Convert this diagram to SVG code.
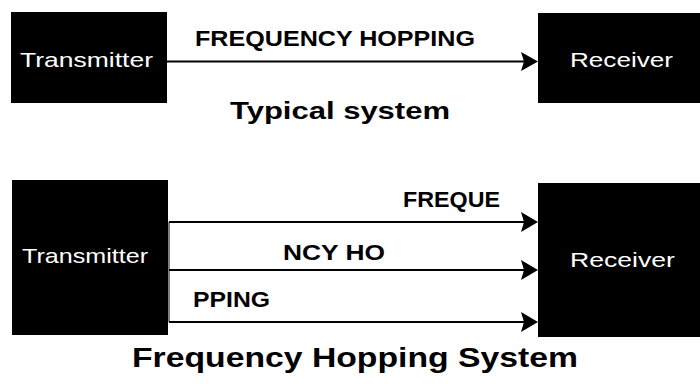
<svg xmlns="http://www.w3.org/2000/svg" width="700" height="384" viewBox="0 0 700 384">
<style>
.box{fill:#000}
.bt{font-family:"Liberation Sans",Arial,sans-serif;fill:#fff;font-size:21px}
.lab{font-family:"Liberation Sans",Arial,sans-serif;font-weight:bold;fill:#000;font-size:22px}
.title{font-family:"Liberation Sans",Arial,sans-serif;font-weight:bold;fill:#000}
.ln{stroke:#000;stroke-width:2;fill:none}
.ah{fill:#000}
</style>
<rect width="700" height="384" fill="#fff"/>
<g id="tx1"><rect class="box" x="11" y="12" width="156" height="91"/><text class="bt" x="20" y="67" textLength="133" lengthAdjust="spacingAndGlyphs">Transmitter</text></g>
<g id="rx1"><rect class="box" x="538" y="13" width="162" height="90"/><text class="bt" x="570" y="67" font-size="19" textLength="103" lengthAdjust="spacingAndGlyphs">Receiver</text></g>
<g id="tx2"><rect class="box" x="12" y="180" width="156" height="155"/><text class="bt" x="22" y="263" textLength="126" lengthAdjust="spacingAndGlyphs">Transmitter</text></g>
<g id="rx2"><rect class="box" x="538" y="183" width="162" height="154"/><text class="bt" x="570" y="267" font-size="19" textLength="105" lengthAdjust="spacingAndGlyphs">Receiver</text></g>
<g id="connectors">
<line class="ln" x1="167" y1="61.5" x2="524" y2="61.5"/>
<polygon class="ah" points="538,61.5 521,52 524,61.5 521,71"/>
<line class="ln" x1="169" y1="222" x2="524" y2="222"/>
<polygon class="ah" points="538,222 521,212 524,222 521,232"/>
<line class="ln" x1="169" y1="270" x2="524" y2="270"/>
<polygon class="ah" points="538,270 521,260 524,270 521,280"/>
<line class="ln" x1="169" y1="322" x2="524" y2="322"/>
<polygon class="ah" points="538,322 521,312 524,322 521,332"/>
<line x1="169" y1="222" x2="169" y2="322" stroke="#000" stroke-width="1"/>
</g>
<g id="labels">
<text class="lab" x="195" y="46" textLength="280" lengthAdjust="spacingAndGlyphs">FREQUENCY HOPPING</text>
<text class="lab" x="403" y="207" font-size="23" textLength="97" lengthAdjust="spacingAndGlyphs">FREQUE</text>
<text class="lab" x="283" y="260" font-size="23" textLength="102" lengthAdjust="spacingAndGlyphs">NCY HO</text>
<text class="lab" x="193" y="307" font-size="23" textLength="77" lengthAdjust="spacingAndGlyphs">PPING</text>
<text class="title" x="230" y="119" font-size="24" textLength="220" lengthAdjust="spacingAndGlyphs">Typical system</text>
<text class="title" x="132" y="367" font-size="27" textLength="446" lengthAdjust="spacingAndGlyphs">Frequency Hopping System</text>
</g>
</svg>
